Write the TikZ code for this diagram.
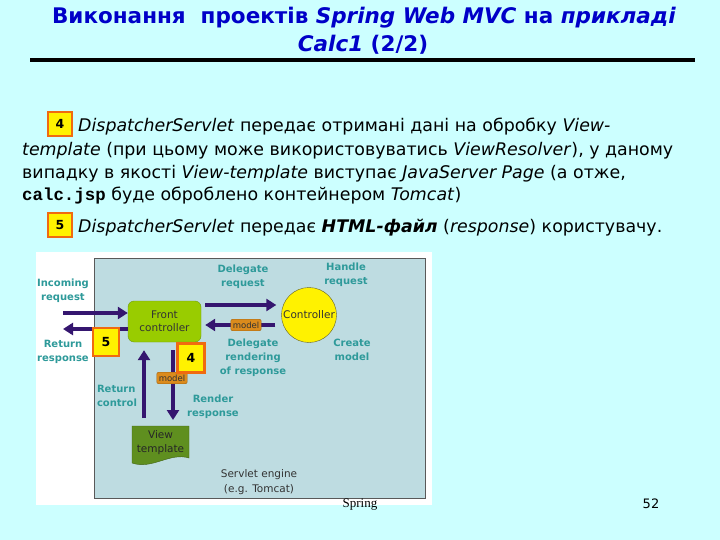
\documentclass[tikz,border=0pt]{standalone}
\usepackage{fontspec}
\setmainfont{DejaVu Sans}
\setmonofont{Liberation Mono}
\newfontfamily\springfont{Liberation Serif}
\usetikzlibrary{arrows.meta}
\definecolor{bgc}{HTML}{CCFFFF}
\definecolor{titleblue}{HTML}{0000C8}
\definecolor{lblc}{HTML}{2E9A9A}
\definecolor{arrc}{HTML}{35166F}
\definecolor{fcgreen}{HTML}{99CC00}
\definecolor{fcborder}{HTML}{6E9A10}
\definecolor{innerc}{HTML}{BEDCE1}
\definecolor{modelc}{HTML}{DB8B1C}
\definecolor{modelb}{HTML}{9A5E10}
\definecolor{vtgreen}{HTML}{5F8F1F}
\definecolor{badgeb}{HTML}{F06A10}
\definecolor{txtgray}{HTML}{333333}
\tikzset{
  lbl/.style={font=\fontsize{10}{14}\selectfont\bfseries, text=lblc, align=center, inner sep=0pt},
  arr/.style={draw=arrc, line width=4.2pt, -{Triangle[length=10pt,width=12pt]}},
  badge/.style={draw=badgeb, line width=2.8pt, fill=yellow, minimum size=24pt, inner sep=0pt, font=\fontsize{12.5}{12.5}\selectfont\bfseries},
  modellbl/.style={draw=modelb, fill=modelc, rounded corners=2pt, font=\fontsize{8.5}{9}\selectfont, text=txtgray, inner xsep=2pt, inner ysep=2.5pt},
  bodytxt/.style={anchor=base west, inner sep=0pt, font=\fontsize{17.4}{20}\selectfont},
}
\begin{document}
\begin{tikzpicture}[x=1pt,y=-1pt]
\fill[bgc] (0,0) rectangle (720,540);
\useasboundingbox (0,0) rectangle (720,540);
% title
\node[font=\fontsize{21.5}{24}\selectfont\bfseries, text=titleblue, inner sep=0pt] (t1) at (364,18) {Виконання\ \ проектів \textit{Spring Web MVC} на \textit{прикладі}};
\node[font=\fontsize{21.5}{24}\selectfont\bfseries, text=titleblue, inner sep=0pt] (t2) at (363,45) {\textit{Calc1} (2/2)};
\draw[line width=4.5pt] (30,60) -- (695,60);
% body
\node[badge] (n4) at (60,124) {4};
\node[bodytxt] (l1) at (78,132) {\textit{DispatcherServlet} передає отримані дані на обробку \textit{View-}};
\node[bodytxt] (l2) at (22,156) {\textit{template} (при цьому може використовуватись \textit{ViewResolver}), у даному};
\node[bodytxt] (l3) at (22,179) {випадку в якості \textit{View-template} виступає \textit{JavaServer Page} (а отже,};
\node[bodytxt] (l4) at (22,201) {\texttt{\textbf{calc.jsp}} буде оброблено контейнером \textit{Tomcat})};
\node[badge] (n5) at (60,225) {5};
\node[bodytxt] (l5) at (78,233) {\textit{DispatcherServlet} передає \textbf{\textit{HTML-файл}} (\textit{response}) користувачу.};
% diagram
\fill[white] (36,252) rectangle (432,505);
\draw[draw=gray!70!black, fill=innerc, line width=0.8pt] (94,258) rectangle (425,498);
\node[draw=fcborder, fill=fcgreen, rounded corners=6pt, minimum width=73pt, minimum height=41pt, align=center, inner sep=0pt, font=\fontsize{10.5}{13}\selectfont, text=txtgray] (fc) at (164.5,321.5) {Front\\controller};
\node[circle, draw=olive!60!black, fill=yellow, minimum size=55pt, inner sep=0pt, font=\fontsize{10.5}{12}\selectfont, text=txtgray] (ctrl) at (309,315) {Controller};
\draw[draw=vtgreen!70!black, fill=vtgreen] (132,426) -- (189,426) -- (189,458) .. controls (170,452) and (152,470) .. (132,463) -- cycle;
\node[align=center, inner sep=0pt, font=\fontsize{10.5}{14}\selectfont, text=black!85] (vt) at (160.5,443) {View\\template};
\coordinate (vtn) at (160.5,426);
% labels
\node[lbl] (inc) at (63,291) {Incoming\\request};
\node[lbl] (ret) at (63,352) {Return\\response};
\node[lbl] (dreq) at (243,277) {Delegate\\request};
\node[lbl] (hreq) at (346,275) {Handle\\request};
\node[lbl] (drend) at (253,358) {Delegate\\rendering\\of response};
\node[lbl] (cmod) at (352,350) {Create\\model};
\node[lbl, align=left] (rctl) at (117,396) {Return\\control};
\node[lbl] (rresp) at (213,407) {Render\\response};
\node[align=center, inner sep=0pt, font=\fontsize{10.5}{14.5}\selectfont, text=txtgray] (se) at (259,482) {Servlet engine\\(e.g. Tomcat)};
% arrows
\coordinate (incs) at (63,313);
\coordinate (rete) at (63,329);
\draw[arr] (incs) -- (fc.west |- incs);
\draw[arr] (fc.west |- rete) -- (rete);
\draw[arr, shorten <=4pt, shorten >=5pt] (fc.east |- 0,305) -- (ctrl.west |- 0,305);
\draw[arr, shorten <=6pt, shorten >=4pt] (ctrl.west |- 0,325) -- (fc.east |- 0,325);
\node[modellbl] (m1) at (246,325) {model};
\draw[arr, shorten <=8pt, shorten >=6pt] (fc.south -| 173,0) -- (vtn -| 173,0);
\node[modellbl] (m2) at (172,378) {model};
\draw[arr, shorten <=8pt, shorten >=8pt] (vtn -| 144,0) -- (fc.south -| 144,0);
% badges on diagram
\node[badge, minimum width=26pt, minimum height=28pt] (d5) at (106,342) {5};
\node[badge, minimum width=27pt, minimum height=29pt] (d4) at (191,358) {4};
% footer
\node[font=\springfont\fontsize{13}{13}\selectfont, inner sep=0pt] (spr) at (360,505) {Spring};
\node[font=\fontsize{13}{13}\selectfont, inner sep=0pt] (pg) at (651,504) {52};
\end{tikzpicture}
\end{document}
